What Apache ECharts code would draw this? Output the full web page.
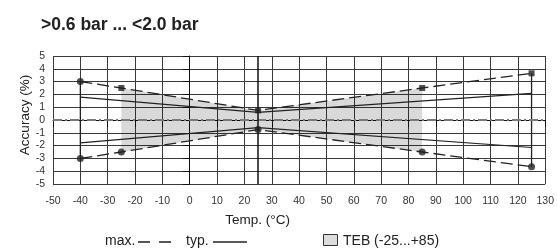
<!DOCTYPE html>
<html>
<head>
<meta charset="utf-8">
<script src="https://cdn.jsdelivr.net/npm/echarts@6/dist/echarts.min.js"></script>
<style>
  html, body { margin: 0; padding: 0; background: #fff; }
  #chart { width: 557px; height: 250px; }
</style>
</head>
<body>
<div id="chart"></div>
<script>
var chart = echarts.init(document.getElementById('chart'));
var FONT = '"Liberation Sans", "DejaVu Sans", sans-serif';

// max. error band (dashed), points with markers
const maxTemps = [-40, -25, 25, 85, 125];
const maxUpper = [3, 2.5, 0.75, 2.5, 3.65];
const maxLower = [-3, -2.5, -0.75, -2.5, -3.65];

// typ. error (solid)
const typTemps = [-40, 25, 125];
const typUpper = [1.78, 0.6, 2.08];
const typLower = [-1.78, -0.6, -2.15];

// TEB range (-25...+85), shaded
const tebTemps = [-25, 25, 85];
const tebUpper = [2.5, 0.75, 2.5];
const tebLower = [-2.5, -0.75, -2.5];

const refTemp = 25;

function pairs(xs, ys) {
    return xs.map(function (x, i) { return [x, ys[i]]; });
}

var upperMarks = maxTemps.map(function (x, i) {
    return { value: [x, maxUpper[i]], symbol: i === 0 ? 'circle' : 'rect', symbolSize: i === 0 ? 7 : 6 };
});
var lowerMarks = pairs(maxTemps, maxLower);

var last = maxTemps.length - 1;

// TEB polygon: upper edge left to right, lower edge back
var tebPolygon = pairs(tebTemps, tebUpper).concat(pairs(tebTemps, tebLower).reverse());

var DASH = [12, 5];

chart.setOption({
    animation: false,
    textStyle: { fontFamily: FONT },
    title: {
        text: '>0.6 bar ... <2.0 bar',
        left: 36,
        top: 11,
        textStyle: { fontFamily: FONT, fontSize: 17.5, fontWeight: 'bold', color: '#222' },
    },
    grid: { left: 53, right: 11, top: 56, bottom: 66 },
    xAxis: {
        type: 'value',
        min: -50,
        max: 130,
        interval: 10,
        name: 'Temp. (°C)',
        nameLocation: 'middle',
        nameGap: 29,
        nameMoveOverlap: false,
        nameTextStyle: { fontFamily: FONT, fontSize: 13.5, color: '#222', padding: [0, 83, 0, 0] },
        axisLine: { show: true, lineStyle: { color: '#111', width: 1 } },
        axisTick: { show: true, length: 7, lineStyle: { color: '#111' } },
        axisLabel: { margin: 12, fontSize: 10.5, color: '#333', fontFamily: FONT },
        splitLine: { show: true, lineStyle: { color: '#3a3a3a', width: 1 } },
    },
    yAxis: {
        type: 'value',
        min: -5,
        max: 5,
        interval: 1,
        name: 'Accuracy (%)',
        nameLocation: 'middle',
        nameGap: 21,
        nameMoveOverlap: false,
        nameTextStyle: { fontFamily: FONT, fontSize: 13.5, color: '#222', padding: [0, 0, 0, 10] },
        axisLine: { show: true, lineStyle: { color: '#111', width: 1 } },
        axisTick: { show: true, length: 7, lineStyle: { color: '#111' } },
        axisLabel: { margin: 8, fontSize: 10.5, color: '#333', fontFamily: FONT },
        splitLine: { show: true, lineStyle: { color: '#3a3a3a', width: 1 } },
    },
    graphic: [
        // legend, drawn by hand: text first, then the line sample
        { type: 'text', left: 105, top: 234, style: { text: 'max.', font: '14px ' + FONT, fill: '#222' } },
        { type: 'line', shape: { x1: 138, y1: 242, x2: 172, y2: 242 }, style: { stroke: '#222', lineWidth: 1.3, lineDash: [12, 9] } },
        { type: 'text', left: 186, top: 234, style: { text: 'typ.', font: '14px ' + FONT, fill: '#222' } },
        { type: 'line', shape: { x1: 213, y1: 242, x2: 247, y2: 242 }, style: { stroke: '#222', lineWidth: 1.3 } },
        { type: 'rect', shape: { x: 323.5, y: 234.5, width: 14, height: 11 }, style: { fill: '#dcdcdc', stroke: '#333', lineWidth: 1 } },
        { type: 'text', left: 343, top: 234, style: { text: 'TEB (-25...+85)', font: '14px ' + FONT, fill: '#222' } },
    ],
    series: [
        {
            name: 'TEB (-25...+85)',
            type: 'custom',
            silent: true,
            data: [0],
            renderItem: function (params, api) {
                return {
                    type: 'polygon',
                    shape: { points: tebPolygon.map(function (p) { return api.coord(p); }) },
                    style: { fill: 'rgba(0,0,0,0.15)' },
                };
            },
            z: 1,
        },
        {
            name: 'ref',
            type: 'line',
            data: [],
            markLine: {
                silent: true,
                symbol: 'none',
                label: { show: false },
                data: [
                    { yAxis: 0, lineStyle: { color: '#7a7a7a', width: 2, type: [9, 3, 2, 3] } },
                    { xAxis: refTemp, lineStyle: { color: '#111', width: 1.5, type: 'solid' } },
                ],
            },
        },
        {
            name: 'max.',
            type: 'line',
            symbol: 'none',
            lineStyle: { color: '#222', width: 1.3, type: DASH },
            data: pairs(maxTemps, maxUpper),
        },
        {
            name: 'max.',
            type: 'line',
            symbol: 'none',
            lineStyle: { color: '#222', width: 1.3, type: DASH },
            data: pairs(maxTemps, maxLower),
        },
        {
            name: 'typ.',
            type: 'line',
            symbol: 'none',
            lineStyle: { color: '#222', width: 1.2 },
            data: pairs(typTemps, typUpper),
        },
        {
            name: 'typ.',
            type: 'line',
            symbol: 'none',
            lineStyle: { color: '#222', width: 1.2 },
            data: pairs(typTemps, typLower),
        },
        {
            name: 'endLow',
            type: 'line',
            symbol: 'none',
            lineStyle: { color: '#222', width: 1.3 },
            data: [[maxTemps[0], maxUpper[0]], [maxTemps[0], maxLower[0]]],
        },
        {
            name: 'endHigh',
            type: 'line',
            symbol: 'none',
            lineStyle: { color: '#222', width: 1.3 },
            data: [[maxTemps[last], maxUpper[last]], [maxTemps[last], maxLower[last]]],
        },
        {
            name: 'upperMarks',
            type: 'scatter',
            itemStyle: { color: '#222' },
            data: upperMarks,
            z: 5,
        },
        {
            name: 'lowerMarks',
            type: 'scatter',
            symbol: 'circle',
            symbolSize: 7,
            itemStyle: { color: '#222' },
            data: lowerMarks,
            z: 5,
        },
    ],
});

window.addEventListener('resize', function () {
    chart.resize();
});
</script>
</body>
</html>
